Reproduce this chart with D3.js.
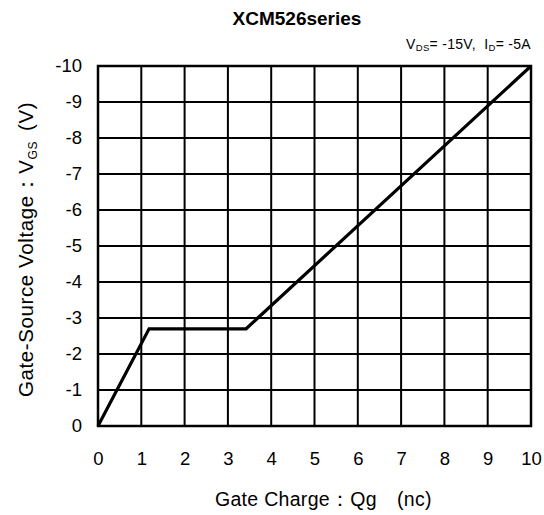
<!DOCTYPE html>
<html>
<head>
<meta charset="utf-8">
<script src="https://cdn.jsdelivr.net/npm/d3@7"></script>
<style>
  html, body { margin: 0; padding: 0; background: #fff; }
  svg { display: block; font-family: "Liberation Sans", Arial, sans-serif; }
  text { white-space: pre; }
</style>
</head>
<body>
<svg id="chart" width="544" height="515"></svg>
<script>
// Gate charge curve (Qg in nC, VGS in V)
const chargeQg = [0, 1.18, 3.42, 10];
const gateVgs = [0, -2.7, -2.7, -10];
const xTicks = [0, 1, 2, 3, 4, 5, 6, 7, 8, 9, 10];
const yTicks = [0, -1, -2, -3, -4, -5, -6, -7, -8, -9, -10];

const svg = d3.select("#chart");
const m = { left: 98, right: 531, top: 66, bottom: 426 };

const x = d3.scaleLinear().domain([0, 10]).range([m.left, m.right]);
const y = d3.scaleLinear().domain([0, -10]).range([m.bottom, m.top]);

// Grid
const grid = svg.append("g").attr("stroke", "#000").attr("stroke-width", 2);
grid.selectAll(".vx").data(xTicks.slice(1, -1)).join("line")
  .attr("x1", d => x(d)).attr("x2", d => x(d))
  .attr("y1", m.top).attr("y2", m.bottom);
grid.selectAll(".hy").data(yTicks.slice(1, -1)).join("line")
  .attr("y1", d => y(d)).attr("y2", d => y(d))
  .attr("x1", m.left).attr("x2", m.right);

// Frame
svg.append("rect")
  .attr("x", m.left).attr("y", m.top)
  .attr("width", m.right - m.left).attr("height", m.bottom - m.top)
  .attr("fill", "none").attr("stroke", "#000").attr("stroke-width", 2.5);

// Axes (labels only)
const xAxis = svg.append("g").attr("transform", `translate(0,${m.bottom})`)
  .call(d3.axisBottom(x).tickValues(xTicks).tickFormat(d3.format("d")).tickSize(0).tickPadding(26));
xAxis.select(".domain").remove();
xAxis.selectAll("text").attr("font-size", 18.5).attr("fill", "#000")
  .attr("font-family", "Liberation Sans, Arial, sans-serif");

const yAxis = svg.append("g").attr("transform", `translate(${m.left},0)`)
  .call(d3.axisLeft(y).tickValues(yTicks).tickFormat(d => d === 0 ? "0" : "-" + Math.abs(d)).tickSize(0).tickPadding(16));
yAxis.select(".domain").remove();
yAxis.selectAll("text").attr("font-size", 18.5).attr("fill", "#000")
  .attr("font-family", "Liberation Sans, Arial, sans-serif");

// Curve
const line = d3.line().x((d, i) => x(chargeQg[i])).y(d => y(d));
svg.append("path")
  .datum(gateVgs)
  .attr("d", line)
  .attr("fill", "none").attr("stroke", "#000").attr("stroke-width", 3.2)
  .attr("stroke-linejoin", "miter");

// Title
svg.append("text").attr("x", 297).attr("y", 25).attr("text-anchor", "middle")
  .attr("font-size", 19).attr("font-weight", "bold").text("XCM526series");

// Test condition
const cond = svg.append("text").attr("x", 531).attr("y", 49).attr("text-anchor", "end")
  .attr("font-size", 14).attr("letter-spacing", 0.3);
cond.append("tspan").text("V");
cond.append("tspan").attr("font-size", 9.5).attr("dy", 2).text("DS");
cond.append("tspan").attr("dy", -2).text("= -15V,  I");
cond.append("tspan").attr("font-size", 9.5).attr("dy", 2).text("D");
cond.append("tspan").attr("dy", -2).text("= -5A");

// X axis title
const xt = svg.append("text").attr("y", 506).attr("font-size", 19.5).attr("letter-spacing", 0.3);
xt.append("tspan").attr("x", 215).text("Gate Charge：Qg");
xt.append("tspan").attr("x", 397).text("(nc)");

// Y axis title (rotated, reads upward)
const yt = svg.append("text").attr("transform", "translate(33,0) rotate(-90)")
  .attr("font-size", 20.5).attr("letter-spacing", 0.6);
yt.append("tspan").attr("x", -397).text("Gate-Source Voltage：V");
yt.append("tspan").attr("dy", 4).attr("font-size", 12).text("GS");
yt.append("tspan").attr("x", -131).attr("dy", -4).text("(V)");
</script>
</body>
</html>
